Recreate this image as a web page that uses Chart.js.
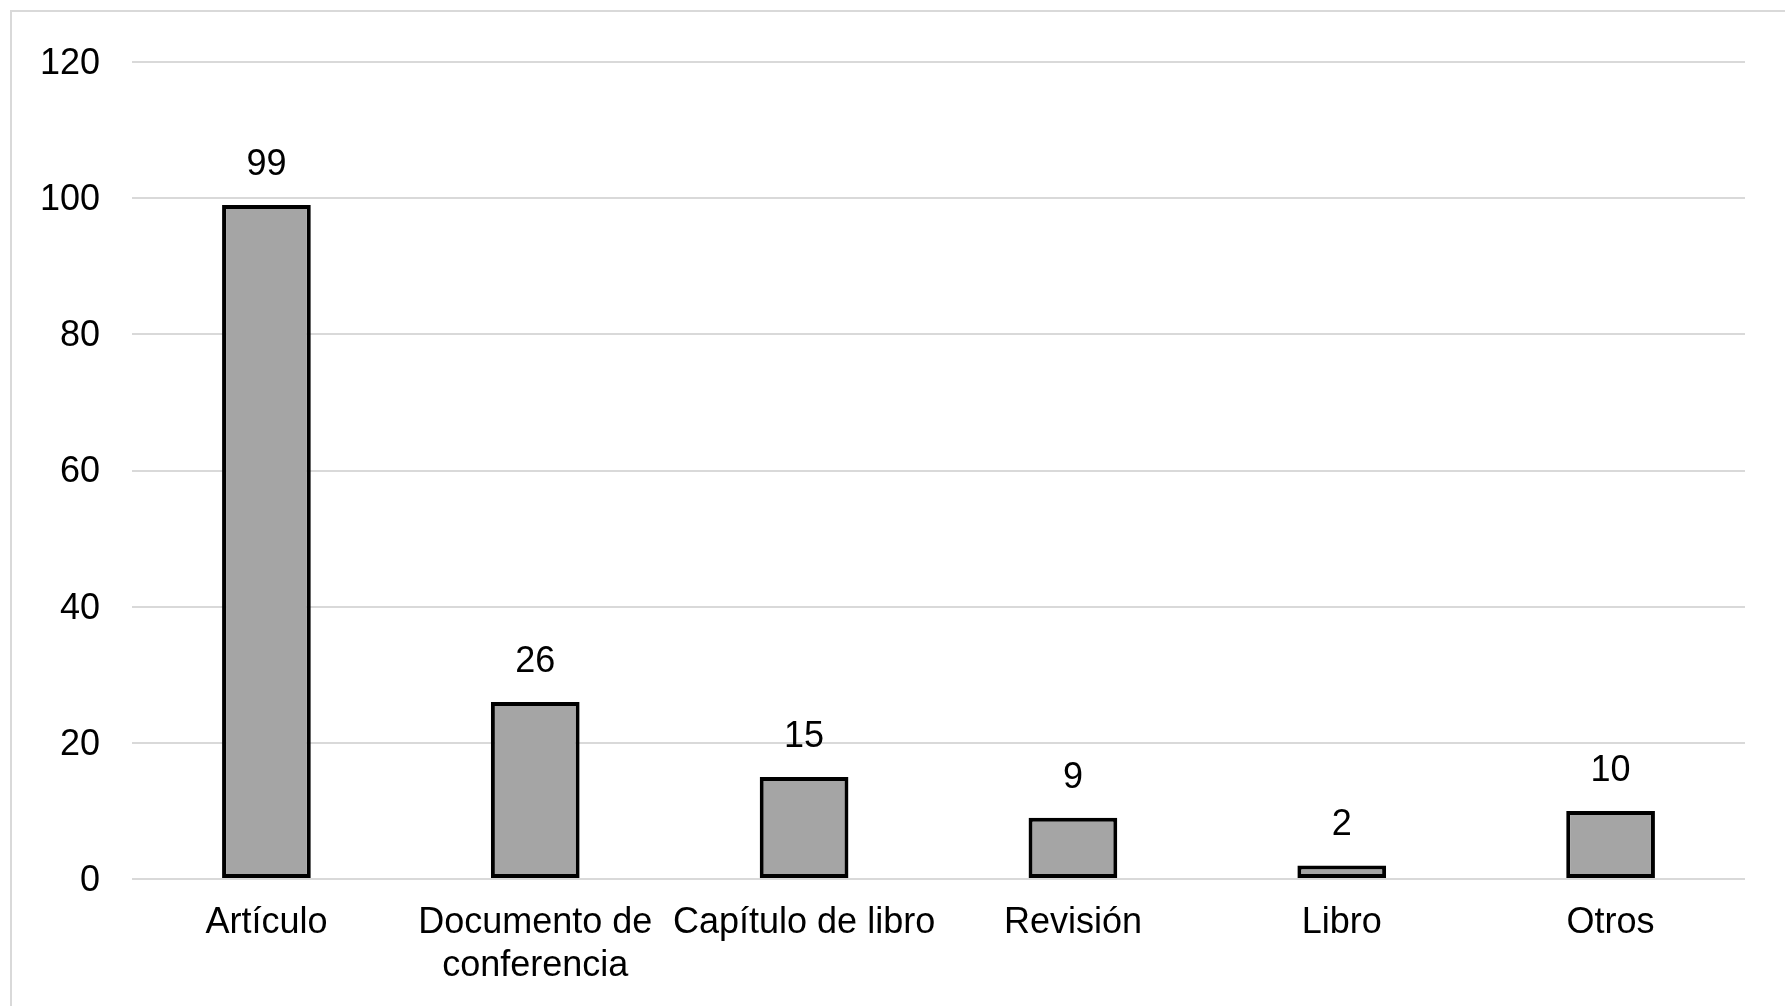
<!DOCTYPE html>
<html>
<head>
<meta charset="utf-8">
<script src="https://cdn.jsdelivr.net/npm/chart.js@4/dist/chart.umd.min.js"></script>
<style>
  html, body { margin: 0; padding: 0; background: #ffffff; overflow: hidden; }
  #wrap { position: relative; width: 1785px; height: 1006px; }
</style>
</head>
<body>
<div id="wrap"><canvas id="c"></canvas></div>
<script>
const categories = [['Artículo'], ['Documento de', 'conferencia'], ['Capítulo de libro'], ['Revisión'], ['Libro'], ['Otros']];
const counts = [99, 26, 15, 9, 2, 10];
const yTicks = [0, 20, 40, 60, 80, 100, 120];

const FONT = "'Liberation Sans', Arial, sans-serif";

const frame = {
  id: 'frame',
  beforeDraw(chart) {
    const ctx = chart.ctx;
    ctx.save();
    ctx.strokeStyle = '#d9d9d9';
    ctx.lineWidth = 2;
    ctx.beginPath();
    ctx.moveTo(11, chart.height);
    ctx.lineTo(11, 11);
    ctx.lineTo(chart.width, 11);
    ctx.stroke();
    ctx.restore();
  }
};

const valueLabels = {
  id: 'valueLabels',
  afterDatasetsDraw(chart) {
    const ctx = chart.ctx;
    const meta = chart.getDatasetMeta(0);
    ctx.save();
    ctx.font = '36px ' + FONT;
    ctx.fillStyle = '#000000';
    ctx.textAlign = 'center';
    ctx.textBaseline = 'middle';
    meta.data.forEach((bar, i) => {
      ctx.fillText(String(counts[i]), bar.x, bar.y - 40);
    });
    ctx.restore();
  }
};

new Chart(document.getElementById('c'), {
  type: 'bar',
  data: {
    labels: categories,
    datasets: [{
      data: counts,
      backgroundColor: '#a5a5a5',
      borderColor: '#000000',
      borderWidth: 4,
      borderSkipped: false,
      barPercentage: 0.33,
      categoryPercentage: 1.0
    }]
  },
  options: {
    responsive: true,
    maintainAspectRatio: false,
    animation: false,
    layout: { padding: { top: 62, right: 40, left: 0, bottom: 0 } },
    plugins: { legend: { display: false }, tooltip: { enabled: false } },
    scales: {
      x: {
        grid: { display: false },
        border: { display: false },
        ticks: {
          color: '#000000',
          font: { family: FONT, size: 36, lineHeight: 1.2 },
          padding: 14,
          maxRotation: 0,
          autoSkip: false
        },
        afterFit(scale) { scale.height = 127; }
      },
      y: {
        min: 0,
        max: 120,
        afterBuildTicks(scale) { scale.ticks = yTicks.map(v => ({ value: v })); },
        grid: { color: '#d9d9d9', lineWidth: 2, drawTicks: false },
        border: { display: false },
        ticks: {
          color: '#000000',
          font: { family: FONT, size: 36 },
          padding: 32,
          labelOffset: 2
        },
        afterFit(scale) { scale.width = 132; }
      }
    }
  },
  plugins: [frame, valueLabels]
});
</script>
</body>
</html>
